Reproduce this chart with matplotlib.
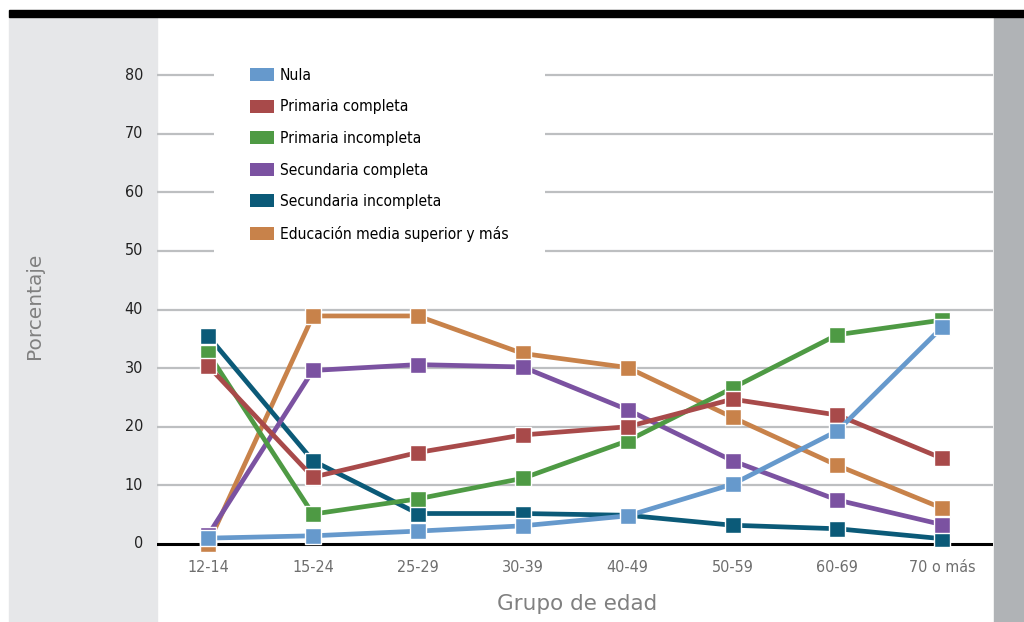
import matplotlib
matplotlib.use("Agg")
import matplotlib.pyplot as plt
from matplotlib.patches import Patch, Rectangle
from matplotlib import font_manager as fm

W, H = 1024, 622
categories = ["12-14", "15-24", "25-29", "30-39", "40-49", "50-59", "60-69", "70 o más"]
series_names = ["Nula", "Primaria completa", "Primaria incompleta",
                "Secundaria completa", "Secundaria incompleta",
                "Educación media superior y más"]
nula = [1.0, 1.4, 2.2, 3.1, 4.8, 10.2, 19.3, 37.0]
prim_comp = [30.4, 11.4, 15.6, 18.6, 20.0, 24.7, 22.0, 14.6]
prim_inc = [32.6, 5.1, 7.7, 11.2, 17.6, 26.6, 35.7, 38.2]
sec_comp = [1.5, 29.6, 30.6, 30.2, 22.9, 14.2, 7.5, 3.3]
sec_inc = [35.5, 14.2, 5.2, 5.2, 4.9, 3.2, 2.6, 0.9]
media_sup = [0.0, 38.9, 38.9, 32.5, 30.1, 21.6, 13.4, 6.1]
yticks = [0, 10, 20, 30, 40, 50, 60, 70, 80]

colors = ["#6699CC", "#A84A4A", "#4E9A44", "#7B52A1", "#0B5A78", "#C8824A"]
values = [nula, prim_comp, prim_inc, sec_comp, sec_inc, media_sup]

# pick a narrow font if one is available
cond_path = fm.findfont(fm.FontProperties(family="DejaVu Sans", stretch="condensed"))
if "Condensed" in cond_path:
    narrow = dict(family="DejaVu Sans", stretch="condensed")
    leg_size = 11.2
    tick_size = 11.5
else:
    narrow = dict(family="DejaVu Sans")
    leg_size = 9.6
    tick_size = 10

fig = plt.figure(figsize=(W / 100, H / 100), dpi=100)
fig.patch.set_facecolor("white")

def fx(px):
    return px / W

def fy(py):
    return 1 - py / H

# background decorations
fig.add_artist(Rectangle((fx(9), fy(622)), fx(157) - fx(9), fy(17) - fy(622),
                         transform=fig.transFigure, color="#E6E7E9", zorder=0))
fig.add_artist(Rectangle((fx(994), fy(622)), fx(1024) - fx(994), fy(17) - fy(622),
                         transform=fig.transFigure, color="#B0B3B6", zorder=0))
fig.add_artist(Rectangle((fx(9), fy(17)), fx(1024) - fx(9), fy(10) - fy(17),
                         transform=fig.transFigure, color="black", zorder=0))

ax = fig.add_axes([fx(157), fy(622), fx(993) - fx(157), fy(17) - fy(622)])
ax.set_facecolor("none")
x0, dx = 208, 104.9
ax.set_xlim((157 - x0) / dx, (993 - x0) / dx)
scale = 5.8625
ax.set_ylim(-(622 - 544) / scale, (544 - 17) / scale)
for s in ax.spines.values():
    s.set_visible(False)

for t in yticks[1:]:
    ax.axhline(t, color="#BDBFC1", lw=1.6, zorder=1)
ax.axhline(0, color="black", lw=2.2, zorder=2)

xs = list(range(len(categories)))
for name, vals, c in reversed(list(zip(series_names, values, colors))):
    ax.plot(xs, vals, color=c, lw=3.4, marker="s", ms=11, mfc=c,
            mec="white", mew=1.0, zorder=3, clip_on=False)

ax.set_xticks([])
ax.set_yticks([])
for i, lab in enumerate(categories):
    ax.text(i, -(567 - 544) / scale, lab, ha="center", va="center",
            fontsize=tick_size, color="#6E6E6E", **narrow)
for t in yticks:
    ax.text((143 - x0) / dx, t, str(t), ha="right", va="center",
            fontsize=tick_size, color="#222222", clip_on=False, **narrow)

fig.text(fx(577), fy(604), "Grupo de edad", ha="center", va="center",
         fontsize=15.5, color="#808080", family="DejaVu Sans")
fig.text(fx(35), fy(306), "Porcentaje", ha="center", va="center", rotation=90,
         fontsize=14.5, color="#808080", family="DejaVu Sans")

handles = [Patch(facecolor=c, edgecolor="none") for c in colors]
prop = fm.FontProperties(size=leg_size, **narrow)
fs_px = leg_size * 100 / 72
leg = fig.legend(handles, series_names, loc="upper left",
                 bbox_to_anchor=(fx(214), fy(32)), bbox_transform=fig.transFigure,
                 frameon=True, fancybox=False, borderaxespad=0,
                 borderpad=36 / fs_px,
                 handlelength=24 / fs_px, handleheight=14 / fs_px,
                 labelspacing=(33.3 - 1.08 * fs_px) / fs_px,
                 handletextpad=6 / fs_px, prop=prop)
leg.get_frame().set_facecolor("white")
leg.get_frame().set_edgecolor("none")
leg.get_frame().set_alpha(1)
leg.set_zorder(5)

fig.savefig("out.png", dpi=100)
